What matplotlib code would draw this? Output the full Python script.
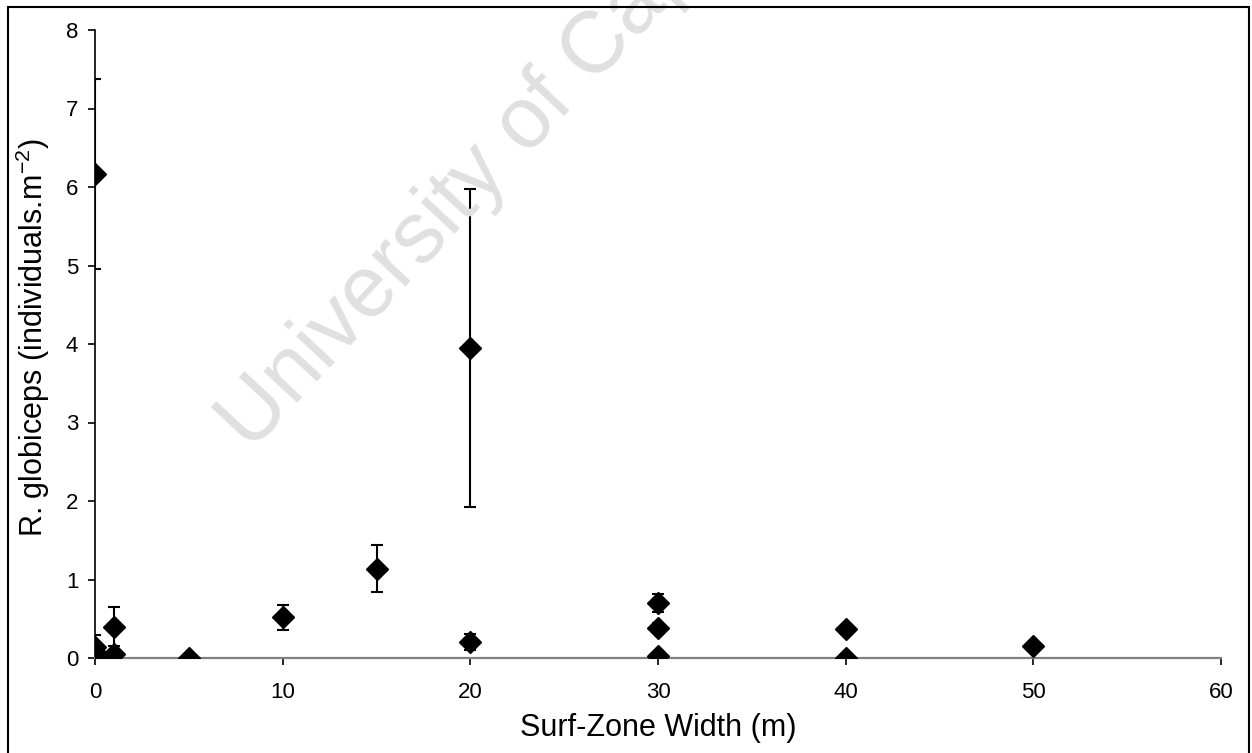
import matplotlib
matplotlib.use("Agg")
import matplotlib.pyplot as plt
from matplotlib.patches import Rectangle

plt.rcParams['font.family'] = ['Liberation Sans', 'DejaVu Sans']
plt.rcParams['mathtext.fontset'] = 'custom'
plt.rcParams['mathtext.rm'] = 'Liberation Sans'

# Data
width = [0, 0, 0, 0, 0, 1, 1, 5, 10, 15, 20, 20, 30, 30, 30, 40, 40, 50]
density = [6.17, 0.0, 0.03, 0.08, 0.14, 0.40, 0.05, 0.0, 0.52, 1.14, 3.95, 0.20, 0.70, 0.38, 0.02, 0.37, 0.0, 0.15]
err = [1.21, 0.0, 0.0, 0.0, 0.15, 0.245, 0.0, 0.0, 0.16, 0.30, 2.03, 0.10, 0.12, 0.06, 0.0, 0.0, 0.0, 0.0]
xticks = [0, 10, 20, 30, 40, 50, 60]
yticks = [0, 1, 2, 3, 4, 5, 6, 7, 8]

fig = plt.figure(figsize=(12.52, 7.53), dpi=100)
W, H = 1252, 753
ax = fig.add_axes([95 / W, 1 - 658 / H, (1221 - 95) / W, (658 - 30) / H])
ax.patch.set_alpha(0)

# watermark
fig.text(251 / W, 1 - 453 / H, "University of Cape Town", fontsize=62.5, color='#e0e0e0',
         rotation=47, rotation_mode='anchor', ha='left', va='baseline', zorder=0)

ax.errorbar(width, density, yerr=err, fmt='D', color='black', ms=11,
            ecolor='black', elinewidth=1.5, capsize=4, capthick=1.5, zorder=3)

ax.set_xlim(0, 60)
ax.set_ylim(0, 8)
ax.set_xticks(xticks)
ax.set_yticks(yticks)
ax.tick_params(axis='both', labelsize=16, direction='out', length=5, width=1.2, color='black')
ax.tick_params(axis='x', pad=12)
ax.tick_params(axis='y', pad=7)
for s in ['top', 'right']:
    ax.spines[s].set_visible(False)
ax.spines['left'].set_linewidth(1.2)
ax.spines['bottom'].set_linewidth(1.6)
ax.spines['bottom'].set_color('#808080')
for sp in ax.spines.values():
    sp.set_clip_on(False)
ax.set_xlabel("Surf-Zone Width (m)", fontsize=22)
ax.xaxis.set_label_coords(0.5, -(713 - 658) / 628)
ax.set_ylabel("R. globiceps (individuals.m$^{\\mathregular{-2}}$)", fontsize=22, loc='bottom')
ax.yaxis.set_label_coords(-(95 - 52) / 1126, (658 - 537) / 628)

fig.patches.append(Rectangle((8 / W, -0.05), (1249 - 8) / W, 1.05 - 7 / H, transform=fig.transFigure,
                             fill=False, edgecolor='black', linewidth=1.5))

fig.savefig("out.png", dpi=100)
